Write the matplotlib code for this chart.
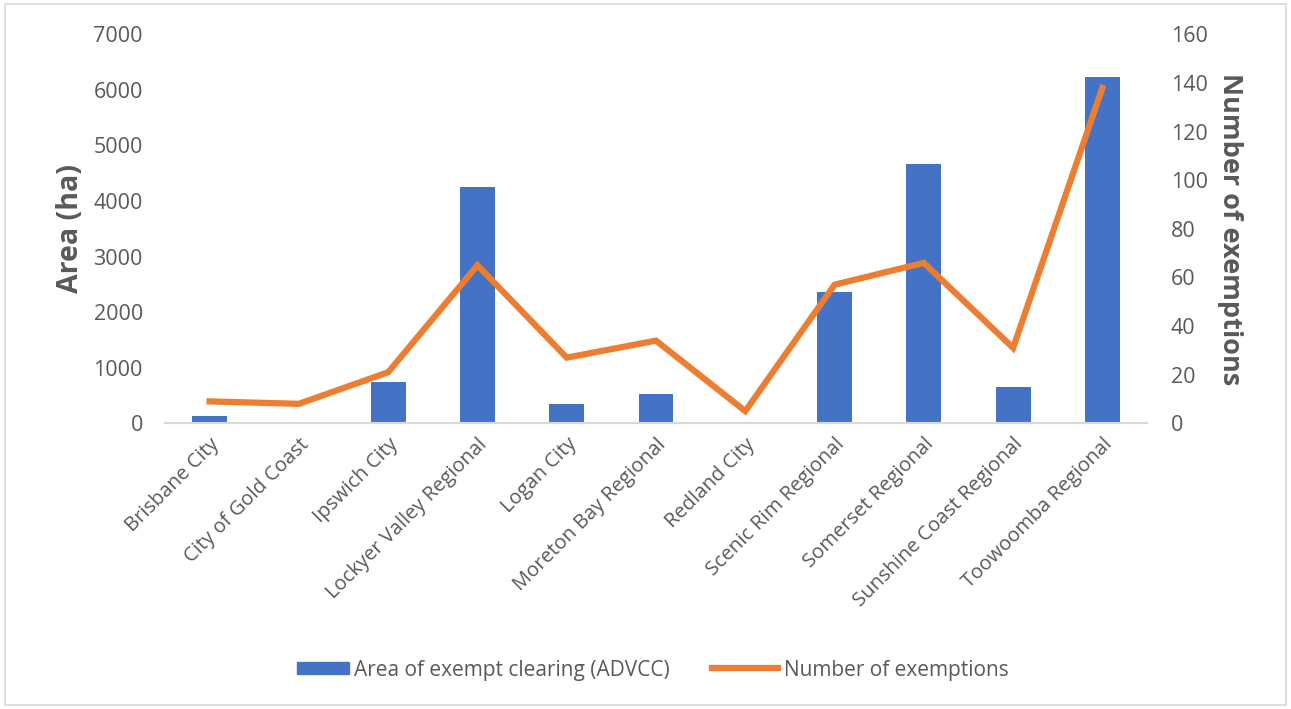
import matplotlib
matplotlib.use("Agg")
import matplotlib.pyplot as plt
from matplotlib.patches import Rectangle
from matplotlib.lines import Line2D
from matplotlib.legend_handler import HandlerPatch

# Local government areas
councils = ["Brisbane City", "City of Gold Coast", "Ipswich City", "Lockyer Valley Regional",
            "Logan City", "Moreton Bay Regional", "Redland City", "Scenic Rim Regional",
            "Somerset Regional", "Sunshine Coast Regional", "Toowoomba Regional"]
# area of exempt clearing (ha)
area_ha = [130, 0, 740, 4260, 340, 520, 0, 2370, 4660, 660, 6240]
# number of exemptions
num_exemptions = [9, 8, 21, 65, 27, 34, 5, 57, 66, 31, 138]

area_ticks = [0, 1000, 2000, 3000, 4000, 5000, 6000, 7000]
count_ticks = [0, 20, 40, 60, 80, 100, 120, 140, 160]

BLUE = "#4472c4"
ORANGE = "#ed7d31"
GREY = "#595959"

plt.rcParams['font.family'] = ['Open Sans', 'DejaVu Sans']


def short_box(legend, orig_handle, xdescent, ydescent, width, height, fontsize):
    # narrower swatch for the bar series, right-aligned next to its text
    w = width * 0.78
    return Rectangle((width - w - xdescent, -ydescent + height * 0.1), w, height * 0.85)


fig = plt.figure(figsize=(12.91, 7.09), dpi=100)
ax = fig.add_axes([0.1278, 0.403, 0.7607, 0.5486])
ax2 = ax.twinx()

x = list(range(len(councils)))
ax.bar(x, area_ha, width=0.39, color=BLUE, zorder=2)
ax2.plot(x, num_exemptions, color=ORANGE, lw=4.5, solid_joinstyle="miter", zorder=3)

ax.set_xlim(-0.5, len(councils) - 0.5)
ax.set_ylim(0, 7000)
ax2.set_ylim(0, 160)
ax.set_yticks(area_ticks)
ax2.set_yticks(count_ticks)
ax.set_xticks(x)
ax.set_xticklabels(councils, rotation=45, ha="right", rotation_mode="anchor",
                   fontsize=14.5, color=GREY)

for a in (ax, ax2):
    for side in ("top", "left", "right"):
        a.spines[side].set_visible(False)
    a.spines["bottom"].set_color("#d9d9d9")
    a.spines["bottom"].set_linewidth(1.5)
    a.tick_params(length=0, labelsize=15.5, labelcolor=GREY)
ax.tick_params(axis="y", pad=16)
ax.tick_params(axis="x", pad=8, labelsize=14.5)
ax2.tick_params(axis="y", pad=17)

ax.set_ylabel("Area (ha)", fontsize=20.5, fontweight="bold", color=GREY, labelpad=6)
ax2.set_ylabel("Number of exemptions", fontsize=19.5, fontweight="bold", color=GREY,
               rotation=270, labelpad=25.5)

# legend at the bottom
handles = [Rectangle((0, 0), 1, 1, color=BLUE),
           Line2D([0], [0], color=ORANGE, lw=4.5)]
fig.legend(handles, ["Area of exempt clearing (ADVCC)", "Number of exemptions"],
           loc="center", bbox_to_anchor=(0.5, 0.055), ncol=2, frameon=False,
           fontsize=15, labelcolor=GREY, handlelength=3.2, handletextpad=0.25,
           columnspacing=2.0,
           handler_map={Rectangle: HandlerPatch(patch_func=short_box)})

# thin frame around the whole chart
fig.patches.append(Rectangle((0.004, 0.006), 0.992, 0.988, transform=fig.transFigure,
                             fill=False, edgecolor="#d9d9d9", lw=1.2))

fig.savefig("out.png", dpi=100, facecolor="white")
